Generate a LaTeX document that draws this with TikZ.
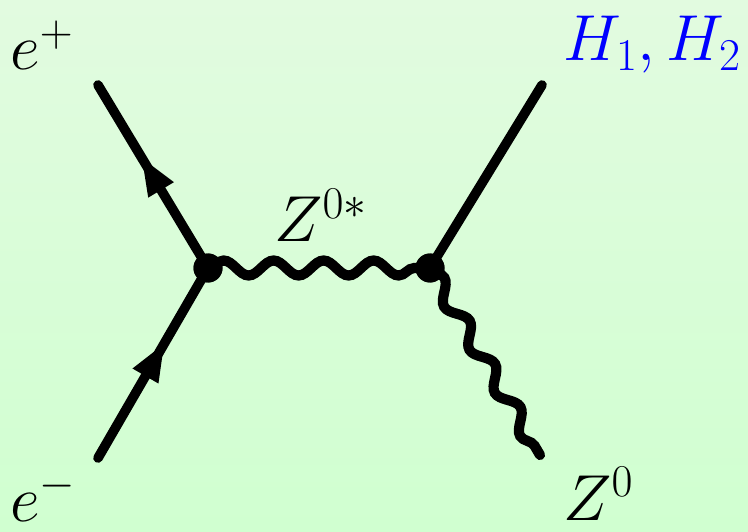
\RequirePackage{fix-cm}
\documentclass[tikz,border=0pt]{standalone}
\usepackage{amsmath}
\usepackage{xcolor}
\usetikzlibrary{decorations.pathmorphing,decorations.markings}

\definecolor{bgtop}{RGB}{226,251,224}
\definecolor{bgbot}{RGB}{208,255,208}

\begin{document}
\begin{tikzpicture}[
  fermion/.style={line width=5.5pt, line cap=round,
    postaction={decorate, decoration={markings,
      mark=at position #1 with {\fill (0,0) -- (-0.74cm,0.3cm) -- (-0.74cm,-0.3cm) -- cycle;}}}},
  boson/.style={line width=5.8pt, line cap=round,
    decorate, decoration={snake, segment length=1cm, amplitude=0.15cm}},
  scalar/.style={line width=5.5pt, line cap=round},
  vtx/.style={circle, fill, inner sep=0pt, minimum size=0.58cm},
  lbl/.style={inner sep=0pt, font=\fontsize{37}{40}\selectfont}
]
  \shade[top color=bgtop, bottom color=bgbot] (0,0) rectangle (14.96,10.62);
  \useasboundingbox (0,0) rectangle (14.96,10.62);

  \coordinate (ep) at (1.96,8.92);
  \coordinate (em) at (1.96,1.46);
  \coordinate (hh) at (10.84,8.92);
  \coordinate (zz) at (10.8,1.52);
  \node[vtx] (V1) at (4.16,5.26) {};
  \node[vtx] (V2) at (8.6,5.26) {};

  \draw[fermion=0.6] (em) -- (V1.center);
  \draw[fermion=0.6] (V1.center) -- (ep);
  \draw[scalar] (V2.center) -- (hh);
  \draw[boson] (V1.center) -- (V2.center);
  \draw[boson] (V2.center) -- (zz);
  \node[vtx] at (V1) {};
  \node[vtx] at (V2) {};

  \node[lbl, anchor=base west] (lep) at (0.2,9.22) {$e^+$};
  \node[lbl, anchor=base west] (lem) at (0.2,0.2) {$e^-$};
  \node[lbl, anchor=base west] (lzs) at (5.48,5.78) {$Z^{0*}$};
  \node[lbl, anchor=base west, text=blue] (lh) at (11.26,9.4) {$H_1,H_2$};
  \node[lbl, anchor=base west] (lz) at (11.26,0.22) {$Z^0$};
\end{tikzpicture}
\end{document}
